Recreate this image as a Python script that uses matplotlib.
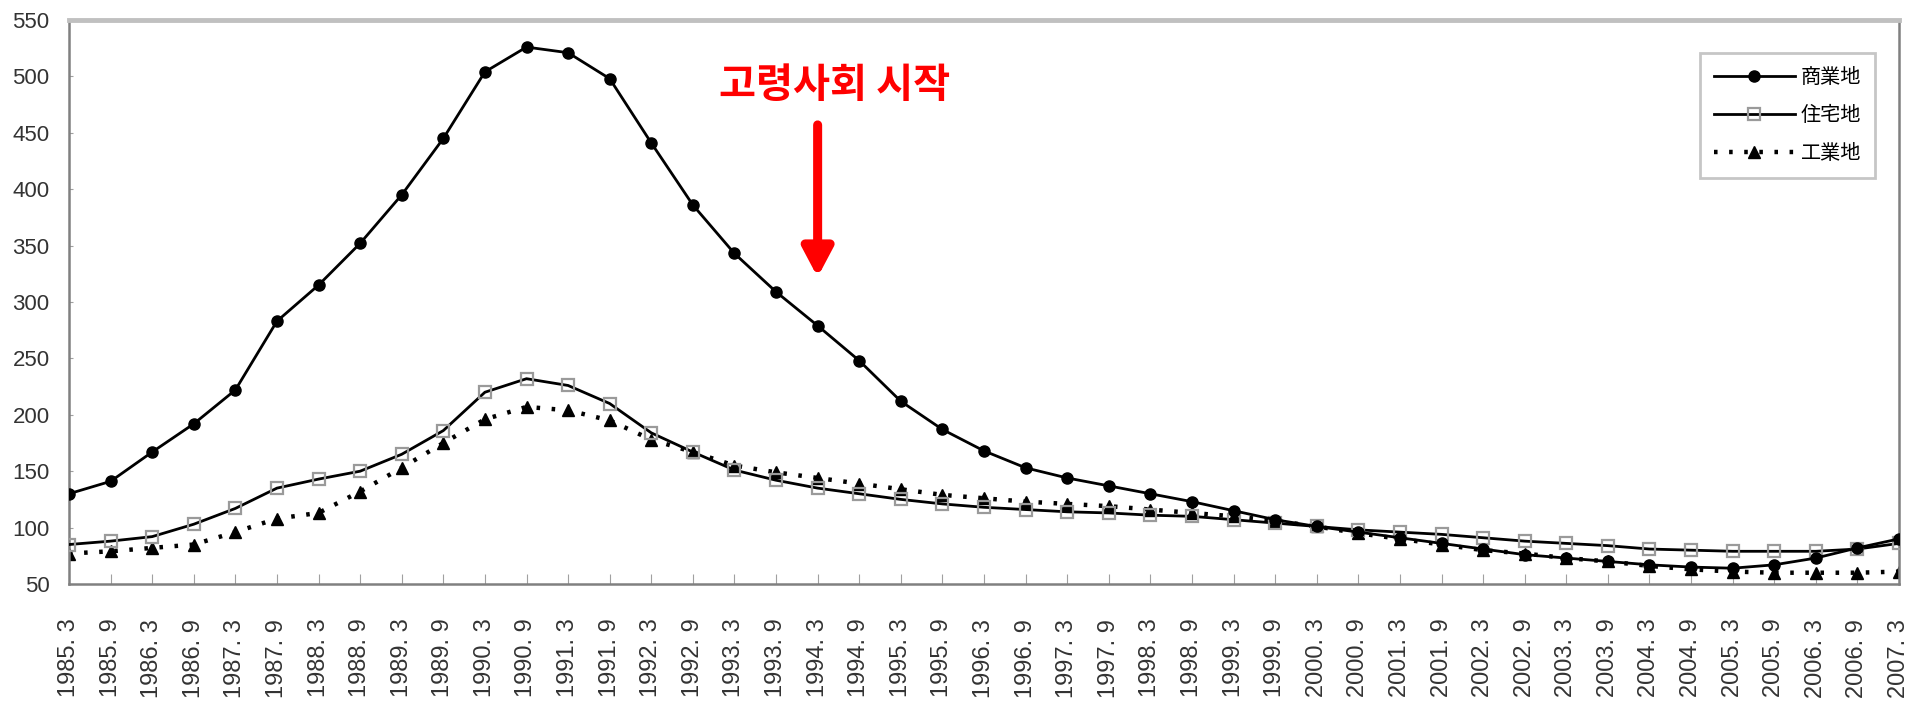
import matplotlib
matplotlib.use("Agg")
import matplotlib.pyplot as plt
import numpy as np

periods = []
for yr in range(1985, 2008):
    for m in (3, 9):
        if yr == 2007 and m == 9:
            continue
        periods.append(f"{yr}. {m}")

commercial = [130, 141, 167, 192, 222, 283, 315, 352, 395, 445, 504, 526, 521, 498, 441, 386,
              343, 309, 279, 248, 212, 187, 168, 153, 144, 137, 130, 123, 115, 107, 101, 96,
              91, 86, 81, 76, 73, 70, 67, 65, 64, 67, 73, 82, 90]
residential = [85, 88, 92, 103, 117, 135, 143, 150, 165, 186, 220, 232, 226, 210, 184, 167,
               151, 142, 135, 130, 125, 121, 118, 116, 114, 113, 111, 110, 107, 104, 101, 98,
               96, 94, 91, 88, 86, 84, 81, 80, 79, 79, 79, 81, 86]
industrial = [77, 79, 82, 85, 96, 108, 113, 132, 153, 175, 196, 207, 204, 195, 178, 167,
              155, 149, 144, 139, 134, 129, 126, 123, 121, 119, 116, 113, 110, 106, 101, 95,
              90, 85, 80, 77, 73, 70, 66, 63, 61, 60, 60, 60, 61]
series_names = ["商業地", "住宅地", "工業地"]
y_ticks = [50, 100, 150, 200, 250, 300, 350, 400, 450, 500, 550]
annotation_text = "고령사회 시작"
annotation_period = "1994. 3"

lab_font = ["Liberation Sans", "DejaVu Sans"]

fig = plt.figure(figsize=(19.23, 7.03), dpi=100)
ax = fig.add_axes([69/1923, 1-584/703, (1899-69)/1923, (584-20)/703])
x = np.arange(len(periods))

ax.plot(x, industrial, color="black", lw=3.2, linestyle=(0, (0.8, 2.6)),
        marker="^", ms=9, mfc="black", mec="black", label=series_names[2], zorder=2)
ax.plot(x, residential, color="black", lw=2.0, marker="s", ms=9, mfc="none",
        mec="#9a9a9a", mew=1.6, label=series_names[1], zorder=3)
ax.plot(x, commercial, color="black", lw=2.0, marker="o", ms=8, mfc="black",
        mec="black", label=series_names[0], zorder=4)

ax.set_xlim(0, len(periods)-1)
ax.set_ylim(50, 550)
ax.set_yticks(y_ticks)
ax.set_xticks(x)
ax.set_xticklabels(periods, rotation=90, family=lab_font, fontsize=17, color="#333333")
for lab in ax.get_yticklabels():
    lab.set_family(lab_font)
ax.tick_params(axis="y", labelsize=16, direction="in", length=3, color="#a0a0a0",
               pad=14, labelcolor="#333333")
ax.tick_params(axis="x", direction="in", length=7, color="#a0a0a0", pad=25)

for s in ("left", "bottom", "right"):
    ax.spines[s].set_color("#808080")
    ax.spines[s].set_linewidth(1.8)
ax.spines["top"].set_color("#c0c0c0")
ax.spines["top"].set_linewidth(3.5)

h, l = ax.get_legend_handles_labels()
leg = ax.legend(h[::-1], l[::-1], loc="upper right", bbox_to_anchor=(0.9869, 0.9415),
                prop={"family": ["Noto Sans CJK JP", "DejaVu Sans"], "size": 14.5},
                frameon=True, fancybox=False, edgecolor="#b8b8b8", handlelength=4.0,
                borderpad=0.7, labelspacing=0.85, handletextpad=0.3, borderaxespad=0)
leg.get_frame().set_linewidth(2.0)

xa = periods.index(annotation_period)
ax.text(xa + 0.4, 492, annotation_text, color="#ff0000", fontsize=29, fontweight="bold",
        family=["Noto Sans CJK KR", "DejaVu Sans"], ha="center", va="center")
ax.annotate("", xy=(xa, 322), xytext=(xa, 457),
            arrowprops=dict(arrowstyle="-|>,head_length=0.85,head_width=0.45",
                            mutation_scale=20, color="#ff0000", lw=6.5,
                            shrinkA=0, shrinkB=0))

fig.savefig("out.png", dpi=100, facecolor="white")
